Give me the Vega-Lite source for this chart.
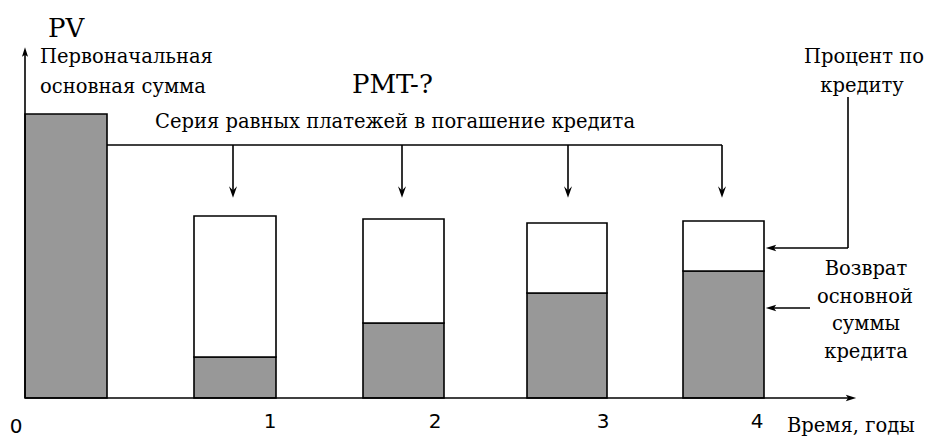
{
  "$schema": "https://vega.github.io/schema/vega-lite/v6.json",
  "width": 925,
  "height": 437,
  "autosize": {"type": "fit", "contains": "padding"},
  "padding": 0,
  "background": "white",
  "config": {"view": {"stroke": null}},
  "datasets": {
    "bars": [
      {"item": "PV", "start": 25, "end": 107, "from": 0, "to": 284, "component": "principal"},
      {"item": "1", "start": 194, "end": 276, "from": 0, "to": 41, "component": "principal"},
      {"item": "1", "start": 194, "end": 276, "from": 41, "to": 182, "component": "interest"},
      {"item": "2", "start": 363, "end": 444, "from": 0, "to": 75, "component": "principal"},
      {"item": "2", "start": 363, "end": 444, "from": 75, "to": 179, "component": "interest"},
      {"item": "3", "start": 527, "end": 607, "from": 0, "to": 105, "component": "principal"},
      {"item": "3", "start": 527, "end": 607, "from": 105, "to": 175, "component": "interest"},
      {"item": "4", "start": 683, "end": 764, "from": 0, "to": 127, "component": "principal"},
      {"item": "4", "start": 683, "end": 764, "from": 127, "to": 177, "component": "interest"}
    ],
    "segments": [
      {"x": 25, "x2": 25, "y": 0, "y2": 345},
      {"x": 25, "x2": 850, "y": 0, "y2": 0},
      {"x": 107, "x2": 722, "y": 253, "y2": 253},
      {"x": 233, "x2": 233, "y": 253, "y2": 203},
      {"x": 402, "x2": 402, "y": 253, "y2": 203},
      {"x": 568, "x2": 568, "y": 253, "y2": 203},
      {"x": 722, "x2": 722, "y": 253, "y2": 203},
      {"x": 848, "x2": 848, "y": 301, "y2": 150},
      {"x": 848, "x2": 772, "y": 150, "y2": 150},
      {"x": 810, "x2": 772, "y": 90, "y2": 90}
    ],
    "arrowsDown": [
      {"x": 233, "y": 206}, {"x": 402, "y": 206}, {"x": 568, "y": 206}, {"x": 722, "y": 206}
    ],
    "arrowsLeft": [
      {"x": 771, "y": 150}, {"x": 771, "y": 90}
    ],
    "arrowUp": [{"x": 25, "y": 346}],
    "arrowRight": [{"x": 851, "y": 0}],
    "titles": [
      {"x": 48, "y": 361, "label": "PV"},
      {"x": 352, "y": 305, "label": "PMT-?"}
    ],
    "labelsLeft": [
      {"x": 40, "y": 335, "label": "Первоначальная"},
      {"x": 40, "y": 305, "label": "основная сумма"},
      {"x": 155, "y": 270, "label": "Серия равных платежей в погашение кредита"},
      {"x": 787, "y": -34, "label": "Время, годы"}
    ],
    "labelsCenter": [
      {"x": 864, "y": 335, "label": "Процент по"},
      {"x": 862, "y": 306, "label": "кредиту"},
      {"x": 866, "y": 123, "label": "Возврат"},
      {"x": 865, "y": 95, "label": "основной"},
      {"x": 866, "y": 68, "label": "суммы"},
      {"x": 866, "y": 40, "label": "кредита"}
    ],
    "years": [
      {"x": 16, "y": -35, "label": "0"},
      {"x": 270, "y": -30, "label": "1"},
      {"x": 435, "y": -30, "label": "2"},
      {"x": 603, "y": -30, "label": "3"},
      {"x": 757, "y": -30, "label": "4"}
    ]
  },
  "layer": [
    {
      "data": {"name": "bars"},
      "mark": {"type": "rect", "stroke": "black", "strokeWidth": 1.6},
      "encoding": {
        "x": {"field": "start", "type": "quantitative", "scale": {"domain": [0, 925], "nice": false, "zero": false}, "axis": null},
        "x2": {"field": "end"},
        "y": {"field": "from", "type": "quantitative", "scale": {"domain": [-39, 398], "nice": false, "zero": false}, "axis": null},
        "y2": {"field": "to"},
        "fill": {"field": "component", "type": "nominal", "scale": {"domain": ["principal", "interest"], "range": ["#989898", "#ffffff"]}, "legend": null}
      }
    },
    {
      "data": {"name": "segments"},
      "mark": {"type": "rule", "color": "black", "strokeWidth": 1.6},
      "encoding": {
        "x": {"field": "x", "type": "quantitative"},
        "x2": {"field": "x2"},
        "y": {"field": "y", "type": "quantitative"},
        "y2": {"field": "y2"}
      }
    },
    {
      "data": {"name": "arrowsDown"},
      "mark": {"type": "point", "shape": "M-0.5,-0.7L0,0.7L0.5,-0.7L0,-0.2Z", "filled": true, "color": "black", "opacity": 1, "size": 260},
      "encoding": {
        "x": {"field": "x", "type": "quantitative"},
        "y": {"field": "y", "type": "quantitative"}
      }
    },
    {
      "data": {"name": "arrowsLeft"},
      "mark": {"type": "point", "shape": "M0.7,-0.45L-0.7,0L0.7,0.45L0.4,0Z", "filled": true, "color": "black", "opacity": 1, "size": 220},
      "encoding": {
        "x": {"field": "x", "type": "quantitative"},
        "y": {"field": "y", "type": "quantitative"}
      }
    },
    {
      "data": {"name": "arrowUp"},
      "mark": {"type": "point", "shape": "M-0.45,0.7L0,-0.7L0.45,0.7L0,0.4Z", "filled": true, "color": "black", "opacity": 1, "size": 180},
      "encoding": {
        "x": {"field": "x", "type": "quantitative"},
        "y": {"field": "y", "type": "quantitative"}
      }
    },
    {
      "data": {"name": "arrowRight"},
      "mark": {"type": "point", "shape": "M-0.7,-0.45L0.7,0L-0.7,0.45L-0.4,0Z", "filled": true, "color": "black", "opacity": 1, "size": 220},
      "encoding": {
        "x": {"field": "x", "type": "quantitative"},
        "y": {"field": "y", "type": "quantitative"}
      }
    },
    {
      "data": {"name": "titles"},
      "mark": {"type": "text", "font": "DejaVu Serif", "fontSize": 26, "align": "left", "baseline": "alphabetic", "color": "black"},
      "encoding": {
        "x": {"field": "x", "type": "quantitative"},
        "y": {"field": "y", "type": "quantitative"},
        "text": {"field": "label"}
      }
    },
    {
      "data": {"name": "labelsLeft"},
      "mark": {"type": "text", "font": "DejaVu Serif", "fontSize": 19.5, "align": "left", "baseline": "alphabetic", "color": "black"},
      "encoding": {
        "x": {"field": "x", "type": "quantitative"},
        "y": {"field": "y", "type": "quantitative"},
        "text": {"field": "label"}
      }
    },
    {
      "data": {"name": "labelsCenter"},
      "mark": {"type": "text", "font": "DejaVu Serif", "fontSize": 19.5, "align": "center", "baseline": "alphabetic", "color": "black"},
      "encoding": {
        "x": {"field": "x", "type": "quantitative"},
        "y": {"field": "y", "type": "quantitative"},
        "text": {"field": "label"}
      }
    },
    {
      "data": {"name": "years"},
      "mark": {"type": "text", "font": "DejaVu Sans", "fontSize": 20, "align": "center", "baseline": "alphabetic", "color": "black"},
      "encoding": {
        "x": {"field": "x", "type": "quantitative"},
        "y": {"field": "y", "type": "quantitative"},
        "text": {"field": "label"}
      }
    }
  ]
}
